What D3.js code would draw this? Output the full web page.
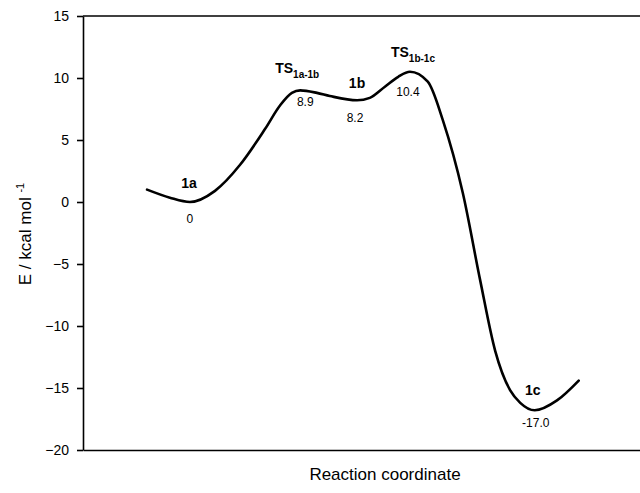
<!DOCTYPE html>
<html>
<head>
<meta charset="utf-8">
<script src="https://cdn.jsdelivr.net/npm/d3@7"></script>
<style>
    body { margin: 0; background: #fff; }
    svg { display: block; font-family: "Liberation Sans", Arial, sans-serif; }
    .axis path, .axis line { stroke: #000; stroke-width: 1.6px; }
    .axis text { font-size: 14px; fill: #000; }
</style>
</head>
<body>
<div id="chart"></div>
<script>
// energy profile, reaction coordinate in arbitrary units (0..10 across the visible plot)
var curveRC = [1.15, 1.56, 1.92, 2.37, 2.82, 3.27, 3.54, 3.75, 3.90, 4.20, 4.43, 4.92, 5.15, 5.42, 5.66, 5.87,
               6.19, 6.46, 6.82, 7.13, 7.40, 7.67, 7.85, 8.11, 8.51, 8.90];
var curveE  = [1.0, 0.35, 0.0, 0.9, 3.0, 5.9, 7.8, 8.8, 9.0, 8.8, 8.55, 8.2, 8.4, 9.3, 10.1, 10.5,
               9.7, 6.6, 0.7, -6.3, -12.0, -15.2, -16.2, -16.8, -16.0, -14.4];

// stationary points
var stateName = ["1a", "TS", "1b", "TS", "1c"];
var stateSub  = ["", "1a-1b", "", "1b-1c", ""];
var stateRC   = [1.92, 3.90, 4.92, 5.87, 8.11];
var stateE    = [0, 8.9, 8.2, 10.4, -17.0];
var stateText = ["0", "8.9", "8.2", "10.4", "-17.0"];

var yTicks = [-20, -15, -10, -5, 0, 5, 10, 15];

// label offsets in px (layout only)
var nameOff  = [[-1, -14], [-3, -19], [0, -12], [3, -16], [-2, -18]];
var valueOff = [[0, 21], [5, 14], [-2, 22], [-2, 23], [1, 14]];

var svg = d3.select("#chart").append("svg").attr("width", 640).attr("height", 493),
    margin = {top: 16, left: 83},
    width = 604,
    height = 434;

var x = d3.scaleLinear().domain([0, 10]).range([0, 557]);
var y = d3.scaleLinear().domain([-20, 15]).range([height, 0]);

var g = svg.append("g").attr("transform", "translate(" + margin.left + "," + margin.top + ")");

g.append("g")
    .attr("class", "y axis")
    .call(d3.axisLeft(y).tickValues(yTicks).tickSize(6).tickSizeOuter(0).tickPadding(8));

g.append("g")
    .attr("class", "x axis")
    .attr("transform", "translate(0," + height + ")")
    .call(d3.axisBottom(d3.scaleLinear().range([0, width])).tickValues([]).tickSizeOuter(0));

// top frame line
g.append("line")
    .attr("x1", 0).attr("x2", width)
    .attr("y1", y(15)).attr("y2", y(15))
    .attr("stroke", "#000").attr("stroke-width", 1.6);

var line = d3.line()
    .x(function(d) { return x(d[0]); })
    .y(function(d) { return y(d[1]); })
    .curve(d3.curveMonotoneX);

g.append("path")
    .datum(d3.zip(curveRC, curveE))
    .attr("fill", "none")
    .attr("stroke", "#000")
    .attr("stroke-width", 2.6)
    .attr("stroke-linecap", "round")
    .attr("stroke-linejoin", "round")
    .attr("d", line);

var idx = d3.range(stateName.length);

var names = g.selectAll(".name")
    .data(idx)
    .enter().append("text")
    .attr("class", "name")
    .attr("text-anchor", "middle")
    .attr("font-weight", "bold")
    .attr("font-size", 14)
    .attr("fill", "#000")
    .attr("x", function(i) { return x(stateRC[i]) + nameOff[i][0]; })
    .attr("y", function(i) { return y(stateE[i]) + nameOff[i][1]; });

names.append("tspan").text(function(i) { return stateName[i]; });
names.filter(function(i) { return stateSub[i] !== ""; })
    .append("tspan")
    .attr("font-size", 10)
    .attr("dy", 5)
    .text(function(i) { return stateSub[i]; });

g.selectAll(".val")
    .data(idx)
    .enter().append("text")
    .attr("class", "val")
    .attr("text-anchor", "middle")
    .attr("font-size", 12)
    .attr("fill", "#000")
    .attr("x", function(i) { return x(stateRC[i]) + valueOff[i][0]; })
    .attr("y", function(i) { return y(stateE[i]) + valueOff[i][1]; })
    .text(function(i) { return stateText[i]; });

// axis titles
svg.append("text")
    .attr("text-anchor", "middle")
    .attr("font-size", 17)
    .attr("x", margin.left + width / 2)
    .attr("y", 480)
    .text("Reaction coordinate");

var yt = svg.append("text")
    .attr("text-anchor", "middle")
    .attr("font-size", 17)
    .attr("transform", "translate(31,234) rotate(-90)");
yt.append("tspan").text("E / kcal mol ");
yt.append("tspan").attr("font-size", 11).attr("dy", -7).text("-1");
</script>
</body>
</html>
